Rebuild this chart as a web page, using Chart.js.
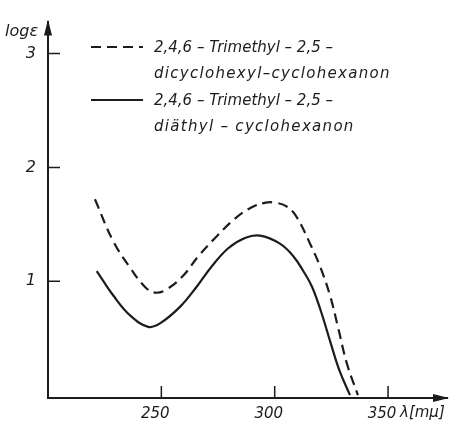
<!DOCTYPE html>
<html>
<head>
<meta charset="utf-8">
<script src="https://cdn.jsdelivr.net/npm/chart.js@4/dist/chart.umd.min.js"></script>
<style>
  html, body { margin: 0; padding: 0; background: #fff; }
  #wrap { width: 461px; height: 430px; position: relative; }
</style>
</head>
<body>
<div id="wrap"><canvas id="chart"></canvas></div>
<script>
// Kurven (Wellenlänge in mμ, log ε)
const lambdaDicyclohexyl = [220.7, 228.8, 236.2, 242.8, 247.2, 252.4, 259.7, 266.3, 273.7, 282.5, 289.9, 296, 300.1, 305, 309.5, 315.6, 320, 324.4, 328, 331.8, 336.7];
const logEpsDicyclohexyl = [1.72, 1.35, 1.12, 0.95, 0.90, 0.93, 1.05, 1.22, 1.38, 1.55, 1.65, 1.69, 1.69, 1.66, 1.57, 1.33, 1.13, 0.875, 0.59, 0.28, 0];

const lambdaDiaethyl = [221.5, 228.8, 236.2, 244.2, 249.4, 258.2, 265.5, 272.2, 279.5, 286.9, 293.5, 302.3, 308.2, 312.6, 316.5, 320.5, 324.5, 328.5, 333.2];
const logEpsDiaethyl = [1.09, 0.875, 0.70, 0.60, 0.63, 0.775, 0.95, 1.13, 1.29, 1.38, 1.40, 1.33, 1.22, 1.09, 0.95, 0.73, 0.47, 0.22, 0];

const xTickValues = [250, 300, 350];
const yTickValues = [1, 2, 3];

const legendLines = [
  ['2,4,6 – Trimethyl – 2,5 –', 'dicyclohexyl–cyclohexanon'],
  ['2,4,6 – Trimethyl – 2,5 –', 'diäthyl – cyclohexanon']
];

const INK = '#1c1c1c';
const FONT_FAMILY = "'DejaVu Sans', sans-serif";

function toPoints(xs, ys) {
  return xs.map((x, i) => ({ x: x, y: ys[i] }));
}

// Achsenpfeile, nach innen zeigende Striche, Legende und Achsentitel
const decorations = {
  id: 'decorations',
  afterDraw(chart) {
    const ctx = chart.ctx;
    const area = chart.chartArea;
    const xs = chart.scales.x;
    const ys = chart.scales.y;
    ctx.save();
    ctx.strokeStyle = INK;
    ctx.fillStyle = INK;
    ctx.lineWidth = 1.5;

    // Striche
    ctx.beginPath();
    yTickValues.forEach(v => {
      const py = ys.getPixelForValue(v);
      ctx.moveTo(area.left, py);
      ctx.lineTo(area.left + 12, py);
    });
    xTickValues.forEach(v => {
      const px = xs.getPixelForValue(v);
      ctx.moveTo(px, area.bottom);
      ctx.lineTo(px, area.bottom - 12);
    });
    ctx.stroke();

    // Pfeile
    ctx.beginPath();
    ctx.moveTo(area.left, area.top - 2);
    ctx.lineTo(area.left - 4, area.top + 14);
    ctx.lineTo(area.left + 4, area.top + 14);
    ctx.closePath();
    ctx.fill();
    ctx.beginPath();
    ctx.moveTo(area.right + 2, area.bottom);
    ctx.lineTo(area.right - 14, area.bottom - 4);
    ctx.lineTo(area.right - 14, area.bottom + 4);
    ctx.closePath();
    ctx.fill();

    // Achsentitel
    ctx.font = 'italic 16px ' + FONT_FAMILY;
    ctx.textBaseline = 'middle';
    ctx.textAlign = 'left';
    ctx.fillText('logε', 5, area.top + 10);
    ctx.font = 'italic 15px ' + FONT_FAMILY;
    ctx.fillText('λ[mμ]', 400, area.bottom + 15);

    // Legende
    chart.data.datasets.forEach((ds, i) => {
      const y0 = 47 + i * 53;
      ctx.save();
      ctx.lineWidth = 2;
      ctx.setLineDash(ds.borderDash || []);
      ctx.beginPath();
      ctx.moveTo(91, y0);
      ctx.lineTo(143, y0);
      ctx.stroke();
      ctx.restore();
      ctx.font = 'italic 15px ' + FONT_FAMILY;
      legendLines[i].forEach((line, k) => {
        ctx.letterSpacing = k === 0 ? '0px' : '1.3px';
        ctx.fillText(line, 154, y0 + 1 + k * 26);
      });
      ctx.letterSpacing = '0px';
    });
    ctx.restore();
  }
};

new Chart(document.getElementById('chart'), {
  type: 'line',
  data: {
    datasets: [{
      label: 'dicyclohexyl',
      data: toPoints(lambdaDicyclohexyl, logEpsDicyclohexyl),
      borderColor: INK,
      borderWidth: 2.2,
      borderDash: [10, 6],
      pointRadius: 0,
      fill: false,
      tension: 0.4
    }, {
      label: 'diäthyl',
      data: toPoints(lambdaDiaethyl, logEpsDiaethyl),
      borderColor: INK,
      borderWidth: 2.2,
      pointRadius: 0,
      fill: false,
      tension: 0.4
    }]
  },
  options: {
    responsive: true,
    maintainAspectRatio: false,
    animation: false,
    layout: { padding: { top: 14, right: 14, left: 0, bottom: 0 } },
    plugins: {
      legend: { display: false },
      tooltip: { enabled: false }
    },
    scales: {
      x: {
        type: 'linear',
        min: 200,
        max: 376,
        grid: { display: false, drawTicks: false },
        border: { display: true, color: INK, width: 2 },
        afterBuildTicks: s => { s.ticks = xTickValues.map(v => ({ value: v })); },
        afterFit: s => { s.height = 32; },
        ticks: {
          color: INK,
          padding: 7,
          labelOffset: -6,
          maxRotation: 0,
          font: { family: FONT_FAMILY, size: 15, style: 'italic' }
        }
      },
      y: {
        type: 'linear',
        min: -0.025,
        max: 3.28,
        grid: { display: false, drawTicks: false },
        border: { display: true, color: INK, width: 2 },
        afterBuildTicks: s => { s.ticks = yTickValues.map(v => ({ value: v })); },
        afterFit: s => { s.width = 48; },
        ticks: {
          color: INK,
          padding: 12,
          font: { family: FONT_FAMILY, size: 16, style: 'italic' }
        }
      }
    }
  },
  plugins: [decorations]
});
</script>
</body>
</html>
